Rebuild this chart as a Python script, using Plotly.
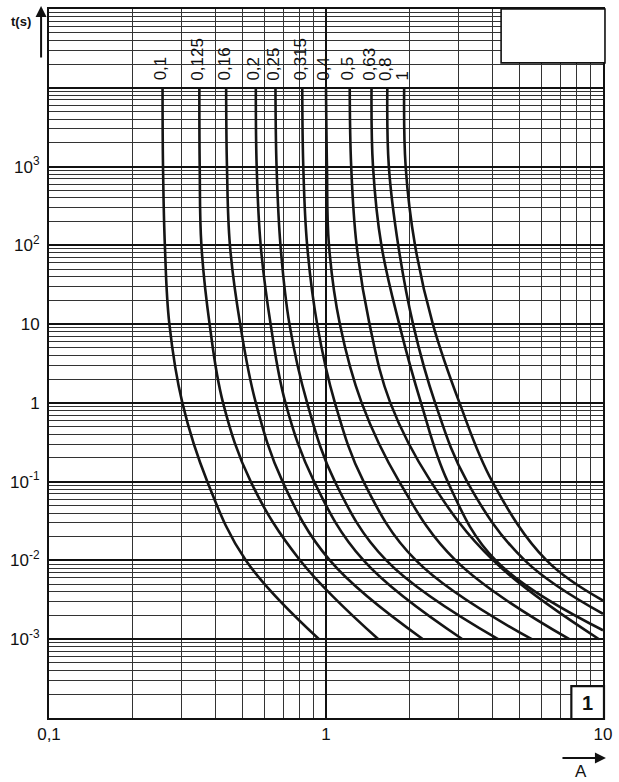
import numpy as np
import plotly.graph_objects as go

FONT = "Liberation Sans Narrow, Liberation Sans, Arial, sans-serif"

# ---- data (current in A, time in s) ----
ratings = ["0,1", "0,125", "0,16", "0,2", "0,25", "0,315", "0,4", "0,5", "0,63", "0,8", "1"]

t_common = [1e4, 1e3, 1e2, 10, 1, 0.1, 0.01, 0.001]

i_0100 = [0.257, 0.258, 0.262, 0.272, 0.303, 0.373, 0.514, 0.944]
i_0125 = [0.349, 0.350, 0.355, 0.380, 0.425, 0.535, 0.807, 1.546]
i_0160 = [0.436, 0.439, 0.450, 0.490, 0.558, 0.697, 1.033, 2.239]
i_0200 = [0.558, 0.562, 0.581, 0.631, 0.714, 0.906, 1.367, 3.11]
i_0250 = [0.657, 0.663, 0.685, 0.738, 0.855, 1.077, 1.651, 4.18]
i_0315 = [0.821, 0.828, 0.855, 0.929, 1.077, 1.367, 2.113, 5.53]
i_0400 = [1.000, 1.008, 1.025, 1.122, 1.345, 1.838, 2.937, 7.56]
i_0500 = [1.218, 1.233, 1.290, 1.436, 1.707, 2.391, 4.014, 9.68]

t_0630 = [1e4, 1e3, 1e2, 10, 1, 0.1, 0.01, 0.0013]
i_0630 = [1.460, 1.478, 1.585, 1.838, 2.203, 2.750, 4.10, 10]
t_0800 = [1e4, 1e3, 1e2, 10, 1, 0.1, 0.01, 0.0021]
i_0800 = [1.665, 1.686, 1.823, 2.062, 2.477, 3.231, 5.22, 10]
t_1000 = [1e4, 1e3, 1e2, 10, 1, 0.1, 0.01, 0.0031]
i_1000 = [1.915, 1.939, 2.096, 2.431, 3.034, 3.985, 6.256, 10]

curves = [
    (i_0100, t_common), (i_0125, t_common), (i_0160, t_common), (i_0200, t_common),
    (i_0250, t_common), (i_0315, t_common), (i_0400, t_common), (i_0500, t_common),
    (i_0630, t_0630), (i_0800, t_0800), (i_1000, t_1000),
]

x_tickvals = [0.1, 1, 10]
x_ticktext = ["0,1", "1", "10"]
y_tickvals = [1e-4, 1e-3, 1e-2, 1e-1, 1, 10, 1e2, 1e3, 1e4, 1e5]
y_ticktext = ["", "10<sup>-3</sup>", "10<sup>-2</sup>", "10<sup>-1</sup>", "1", "10",
              "10<sup>2</sup>", "10<sup>3</sup>", "", ""]

fig = go.Figure()
for (cur, tim), name in zip(curves, ratings):
    fig.add_trace(go.Scatter(x=cur, y=tim, mode="lines", name=name,
                             line=dict(color="#151515", width=2.6, shape="spline", smoothing=1.1),
                             hoverinfo="skip", showlegend=False))

# rotated rating labels above the curve tops
for (cur, tim), name in zip(curves, ratings):
    fig.add_annotation(x=np.log10(cur[0]), y=np.log10(tim[0]), xref="x", yref="y",
                       text=name, textangle=-90, showarrow=False,
                       xanchor="center", yanchor="bottom", yshift=5, xshift=-2,
                       font=dict(family=FONT, size=17, color="#111"))

fig.update_xaxes(type="log", range=[-1, 1], tickmode="array", tickvals=x_tickvals, ticktext=x_ticktext,
                 showgrid=True, gridcolor="#111", gridwidth=2,
                 showline=True, linecolor="#111", linewidth=2, mirror=True,
                 ticks="", zeroline=False,
                 tickfont=dict(family=FONT, size=17, color="#111"),
                 minor=dict(dtick="D1", showgrid=True, gridcolor="#333", gridwidth=1, ticks=""))
fig.update_yaxes(type="log", range=[-4, 5], tickmode="array", tickvals=y_tickvals, ticktext=y_ticktext,
                 showgrid=True, gridcolor="#111", gridwidth=2,
                 showline=True, linecolor="#111", linewidth=2, mirror=True,
                 ticks="", zeroline=False, ticklabelstandoff=4,
                 tickfont=dict(family=FONT, size=17, color="#111"),
                 minor=dict(dtick="D1", showgrid=True, gridcolor="#333", gridwidth=1, ticks=""))

W, H = 619, 782
L, R, T, B = 49, 10, 7, 64
pw, ph = W - L - R, H - T - B

def px(xp):
    return (xp - L) / pw

def py(yp):
    return (H - B - yp) / ph

# top-right blank box
fig.add_shape(type="rect", xref="paper", yref="paper", x0=px(506), x1=px(611), y0=py(61), y1=py(7),
              fillcolor="white", line=dict(color="#111", width=1.6), layer="above")
# chart number box
fig.add_shape(type="rect", xref="paper", yref="paper", x0=px(577), x1=px(610), y0=py(719), y1=py(686),
              fillcolor="white", line=dict(color="#111", width=2.2), layer="above")
fig.add_annotation(xref="paper", yref="paper", x=px(593.5), y=py(702.5), text="<b>1</b>", showarrow=False,
                   xanchor="center", yanchor="middle",
                   font=dict(family="Liberation Sans", size=20, color="#111"))

# axis titles with arrows
fig.add_annotation(xref="paper", yref="paper", x=px(21), y=py(20), text="<b>t(s)</b>", showarrow=False,
                   xanchor="center", yanchor="middle",
                   font=dict(family=FONT, size=13, color="#111"))
fig.add_annotation(xref="paper", yref="paper", x=px(41), y=py(4), ax=0, ay=53, text="",
                   showarrow=True, arrowhead=2, arrowsize=1.1, arrowwidth=2, arrowcolor="#111")
fig.add_annotation(xref="paper", yref="paper", x=px(612), y=py(758), ax=-45, ay=0, text="",
                   showarrow=True, arrowhead=2, arrowsize=1.1, arrowwidth=2, arrowcolor="#111")
fig.add_annotation(xref="paper", yref="paper", x=px(587), y=py(772), text="A", showarrow=False,
                   xanchor="center", yanchor="middle",
                   font=dict(family=FONT, size=17, color="#111"))

fig.update_layout(width=W, height=H, margin=dict(l=L, r=R, t=T, b=B),
                  paper_bgcolor="white", plot_bgcolor="white")

fig.write_html("out.html", config={"displayModeBar": False, "staticPlot": True},
               post_script="document.body.style.margin='0';")
